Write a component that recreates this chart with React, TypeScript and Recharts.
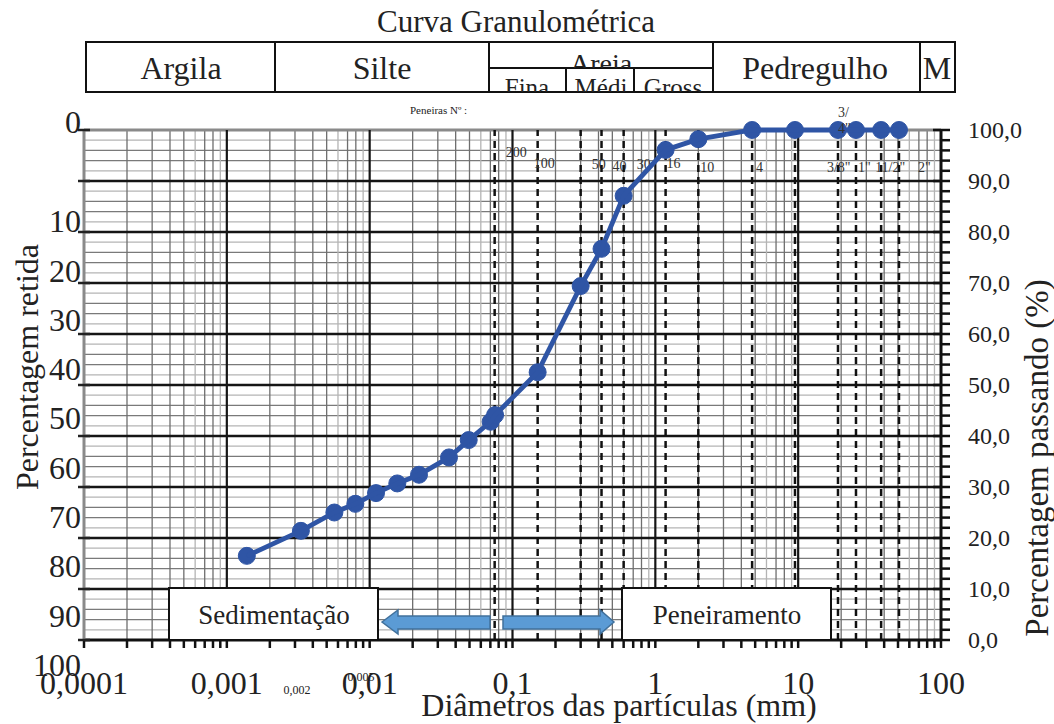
import React from 'react';
import { LineChart, Line, XAxis, YAxis, ReferenceLine } from 'recharts';

const SERIF = "'Liberation Serif', 'Times New Roman', serif";
const BLUE = '#2f55a5';

// ---- data ----
const diameters = [0.00138, 0.0033, 0.00566, 0.00794, 0.01108, 0.01561, 0.02215, 0.03593, 0.04937, 0.0703, 0.0755, 0.15, 0.3, 0.42, 0.6, 1.18, 2.0, 4.76, 9.5, 19.0, 25.4, 38.1, 50.8];
const passing = [16.5, 21.4, 25.0, 26.7, 28.8, 30.7, 32.4, 35.8, 39.2, 42.8, 44.1, 52.5, 69.4, 76.7, 87.1, 96.1, 98.2, 100, 100, 100, 100, 100, 100];

const decadeTicks = [0.0001, 0.001, 0.01, 0.1, 1, 10, 100];
const decadeLabels = ['0,0001', '0,001', '0,01', '0,1', '1', '10', '100'];
const minorMultipliers = [2, 3, 4, 5, 6, 7, 8, 9];
const passingTicks = [0, 10, 20, 30, 40, 50, 60, 70, 80, 90, 100];
const retainedTicks = [0, 10, 20, 30, 40, 50, 60, 70, 80, 90, 100];
const minorSteps = [2, 4, 6, 8];

const sieveNames = ['200', '100', '50', '40', '30', '16', '10', '4', '3/8"', '3/4"', '1"', '11/2"', '2"'];
const sieveSizes = [0.075, 0.15, 0.3, 0.42, 0.6, 1.18, 2.0, 4.76, 9.5, 19.0, 25.4, 38.1, 50.8];

// ---- derived ----
const points = diameters.map((d, i) => ({ d, p: passing[i], r: 100 - passing[i] }));
const minorDiameters: { v: number; m: number }[] = [];
decadeTicks.slice(0, -1).forEach((dec) => minorMultipliers.forEach((m) => minorDiameters.push({ v: dec * m, m })));
const xTicks = [...decadeTicks, ...minorDiameters.map((o) => o.v)].sort((a, b) => a - b);
const minorPassing: { v: number; s: number }[] = [];
passingTicks.slice(0, -1).forEach((t) => minorSteps.forEach((s) => minorPassing.push({ v: t + s, s })));
const rightTicks = [...passingTicks, ...minorPassing.map((o) => o.v)].sort((a, b) => a - b);

// label placement styles (offset from line x / plot top)
const sieveLabelStyle: Record<string, { dx: number; dy: number }> = {
  '200': { dx: 11, dy: 22 },
  '100': { dx: -4, dy: 33 },
  '50': { dx: 11, dy: 34 },
  '40': { dx: 11, dy: 36 },
  '30': { dx: 13, dy: 34 },
  '16': { dx: 1, dy: 33 },
  '10': { dx: 2, dy: 37 },
  '4': { dx: 4, dy: 37 },
  '3/8"': { dx: 32, dy: 37 },
  '3/4"': { dx: 0, dy: -18 },
  '1"': { dx: 2, dy: 37 },
  '11/2"': { dx: -6, dy: 37 },
  '2"': { dx: 19, dy: 37 },
};

const sieveLabel = (name: string) => (props: any) => {
  const vb = props.viewBox || {};
  const st = sieveLabelStyle[name];
  const x = (vb.x ?? 0) + st.dx;
  const y = (vb.y ?? 130) + st.dy;
  if (name === '3/4"') {
    return (
      <text x={x} y={y} dy="0.35em" fontSize={14} fontFamily={SERIF} fill="#333">3/</text>
    );
  }
  return (
    <text x={x} y={y} dy="0.35em" fontSize={14} fontFamily={SERIF} fill="#333">{name}</text>
  );
};

const LeftTick = (props: any) => {
  const { x, y, payload } = props;
  const v = payload.value as number;
  const ty = v === 0 ? y - 8 : y + 40 - (v - 10) * 0.17;
  return (
    <g>
      <line x1={x - 6} x2={x + 6} y1={y} y2={y} stroke="#222" strokeWidth={2.5} />
      <text x={x - 3} y={ty} dy="0.35em" textAnchor="end" fontSize={32} fontFamily={SERIF} fill="#222">{v}</text>
    </g>
  );
};

const RightTick = (props: any) => {
  const { x, y, payload } = props;
  const v = payload.value as number;
  const major = passingTicks.includes(v);
  return (
    <g>
      <line x1={major ? x - 8 : x} x2={x + 9} y1={y} y2={y} stroke="#111" strokeWidth={2.5} />
      {major && (
        <text x={x + 27} y={y} dy="0.35em" textAnchor="start" fontSize={24} fontFamily={SERIF} fill="#222">
          {v.toFixed(1).replace('.', ',')}
        </text>
      )}
    </g>
  );
};

const BottomTick = (props: any) => {
  const { x, y, payload } = props;
  const v = payload.value as number;
  const idx = decadeTicks.findIndex((d) => Math.abs(Math.log10(d) - Math.log10(v)) < 1e-6);
  return (
    <g>
      <line x1={x} x2={x} y1={y} y2={y + 8} stroke="#111" strokeWidth={2.5} />
      {idx >= 0 && (
        <text x={x} y={y + 43} dy="0.35em" textAnchor="middle" fontSize={32} fontFamily={SERIF} fill="#222">
          {decadeLabels[idx]}
        </text>
      )}
    </g>
  );
};

export default function App() {
  return (
    <div style={{ position: 'absolute', left: 0, top: 0, width: 1054, height: 724, background: '#fff' }}>
      <LineChart width={1054} height={724} data={points} margin={{ top: 130, right: 0, bottom: 0, left: 0 }}>
        <XAxis
          dataKey="d"
          type="number"
          scale="log"
          domain={[0.0001, 100]}
          allowDataOverflow
          ticks={xTicks}
          interval={0}
          tick={(p: any) => <BottomTick {...p} />}
          tickLine={false}
          tickSize={0}
          tickMargin={0}
          axisLine={{ stroke: '#111', strokeWidth: 3 }}
          height={84}
        />
        <YAxis
          yAxisId="left"
          orientation="left"
          type="number"
          domain={[0, 100]}
          allowDataOverflow
          reversed
          ticks={retainedTicks}
          interval={0}
          tick={(p: any) => <LeftTick {...p} />}
          tickLine={false}
          tickSize={0}
          tickMargin={0}
          axisLine={{ stroke: '#8a8a8a', strokeWidth: 3 }}
          width={84}
        />
        <YAxis
          yAxisId="right"
          orientation="right"
          type="number"
          domain={[0, 100]}
          ticks={rightTicks}
          interval={0}
          tick={(p: any) => <RightTick {...p} />}
          tickLine={false}
          tickSize={0}
          tickMargin={0}
          axisLine={{ stroke: '#111', strokeWidth: 3 }}
          width={113}
        />

        {minorPassing.map((o) => (
          <ReferenceLine key={'hm' + o.v} yAxisId="right" y={o.v} stroke={o.s === 2 || o.s === 8 ? '#b4b4b4' : '#7a7a7a'} strokeWidth={1.3} />
        ))}
        {minorDiameters.map((o) => (
          <ReferenceLine key={'vm' + o.v} yAxisId="right" x={o.v} stroke={o.m === 6 || o.m === 9 ? '#b4b4b4' : '#6e6e6e'} strokeWidth={1.3} />
        ))}
        {passingTicks.slice(1, -1).map((v) => (
          <ReferenceLine key={'hM' + v} yAxisId="right" y={v} stroke="#151515" strokeWidth={2.5} />
        ))}
        <ReferenceLine yAxisId="right" y={100} stroke="#8a8a8a" strokeWidth={3} />
        {decadeTicks.slice(1, -1).map((v) => (
          <ReferenceLine key={'vM' + v} yAxisId="right" x={v} stroke="#151515" strokeWidth={2.2} />
        ))}
        {sieveSizes.map((s, i) => (
          <ReferenceLine
            key={'sv' + s}
            yAxisId="right"
            x={s}
            stroke="#111"
            strokeWidth={2.5}
            strokeDasharray="7 5"
            label={sieveLabel(sieveNames[i])}
          />
        ))}

        <Line
          yAxisId="left"
          dataKey="r"
          stroke="none"
          dot={false}
          activeDot={false}
          legendType="none"
          isAnimationActive={false}
        />
        <Line
          yAxisId="right"
          dataKey="p"
          type="linear"
          stroke={BLUE}
          strokeWidth={4.8}
          dot={{ r: 8.5, fill: BLUE, stroke: BLUE, strokeWidth: 1 }}
          activeDot={false}
          isAnimationActive={false}
          zIndex={1000}
        />
      </LineChart>

      <svg width={1054} height={724} style={{ position: 'absolute', left: 0, top: 0, pointerEvents: 'none' }}>
        <defs>
          <clipPath id="cAreia"><rect x={489} y={42} width={224} height={26} /></clipPath>
          <clipPath id="cFina"><rect x={489} y={68} width={77} height={24} /></clipPath>
          <clipPath id="cMedi"><rect x={566} y={68} width={68} height={24} /></clipPath>
          <clipPath id="cGross"><rect x={634} y={68} width={79} height={24} /></clipPath>
        </defs>
        <g fontFamily={SERIF} fill="#222">
          <text x={516} y={32} textAnchor="middle" fontSize={31}>Curva Granulométrica</text>

          <rect x={86} y={42} width={869} height={50} fill="none" stroke="#111" strokeWidth={2} />
          <line x1={275} x2={275} y1={42} y2={92} stroke="#111" strokeWidth={2} />
          <line x1={489} x2={489} y1={42} y2={92} stroke="#111" strokeWidth={2} />
          <line x1={713} x2={713} y1={42} y2={92} stroke="#111" strokeWidth={2} />
          <line x1={920} x2={920} y1={42} y2={92} stroke="#111" strokeWidth={2} />
          <line x1={489} x2={713} y1={68} y2={68} stroke="#111" strokeWidth={2} />
          <line x1={566} x2={566} y1={68} y2={92} stroke="#111" strokeWidth={2} />
          <line x1={634} x2={634} y1={68} y2={92} stroke="#111" strokeWidth={2} />
          <text x={181} y={79} textAnchor="middle" fontSize={32}>Argila</text>
          <text x={382} y={79} textAnchor="middle" fontSize={32}>Silte</text>
          <text x={815} y={79} textAnchor="middle" fontSize={32}>Pedregulho</text>
          <text x={937} y={79} textAnchor="middle" fontSize={32}>M</text>
          <text x={601} y={73} textAnchor="middle" fontSize={28} clipPath="url(#cAreia)">Areia</text>
          <text x={527} y={96} textAnchor="middle" fontSize={25} clipPath="url(#cFina)">Fina</text>
          <text x={601} y={96} textAnchor="middle" fontSize={25} clipPath="url(#cMedi)">Médi</text>
          <text x={673} y={96} textAnchor="middle" fontSize={25} clipPath="url(#cGross)">Gross</text>

          <text x={410} y={114} fontSize={11}>Peneiras Nº :</text>
          <text x={838} y={128} dy="0.35em" fontSize={14} fill="#333">4"</text>

          <rect x={169} y={588} width={209} height={52} fill="#fff" stroke="#111" strokeWidth={2} />
          <text x={274} y={615} dy="0.35em" textAnchor="middle" fontSize={27}>Sedimentação</text>
          <rect x={622} y={588} width={209} height={52} fill="#fff" stroke="#111" strokeWidth={2} />
          <text x={727} y={615} dy="0.35em" textAnchor="middle" fontSize={27}>Peneiramento</text>

          <polygon points="382,622 398,610 398,616 490,616 490,629 398,629 398,634" fill="#5b9bd5" stroke="#41719c" strokeWidth={1.5} />
          <polygon points="503,616 600,616 600,610 614,622 600,634 600,629 503,629" fill="#5b9bd5" stroke="#41719c" strokeWidth={1.5} />

          <text x={297} y={690} dy="0.35em" textAnchor="middle" fontSize={12}>0,002</text>
          <text x={361} y={677} dy="0.35em" textAnchor="middle" fontSize={12}>0,005</text>

          <text x={619} y={716} textAnchor="middle" fontSize={32}>Diâmetros das partículas (mm)</text>
          <text transform="translate(27,367) rotate(-90)" textAnchor="middle" dy="0.35em" fontSize={32}>Percentagem retida</text>
          <text transform="translate(1036,458) rotate(-90)" textAnchor="middle" dy="0.35em" fontSize={33}>Percentagem passando (%)</text>
        </g>
      </svg>
    </div>
  );
}
